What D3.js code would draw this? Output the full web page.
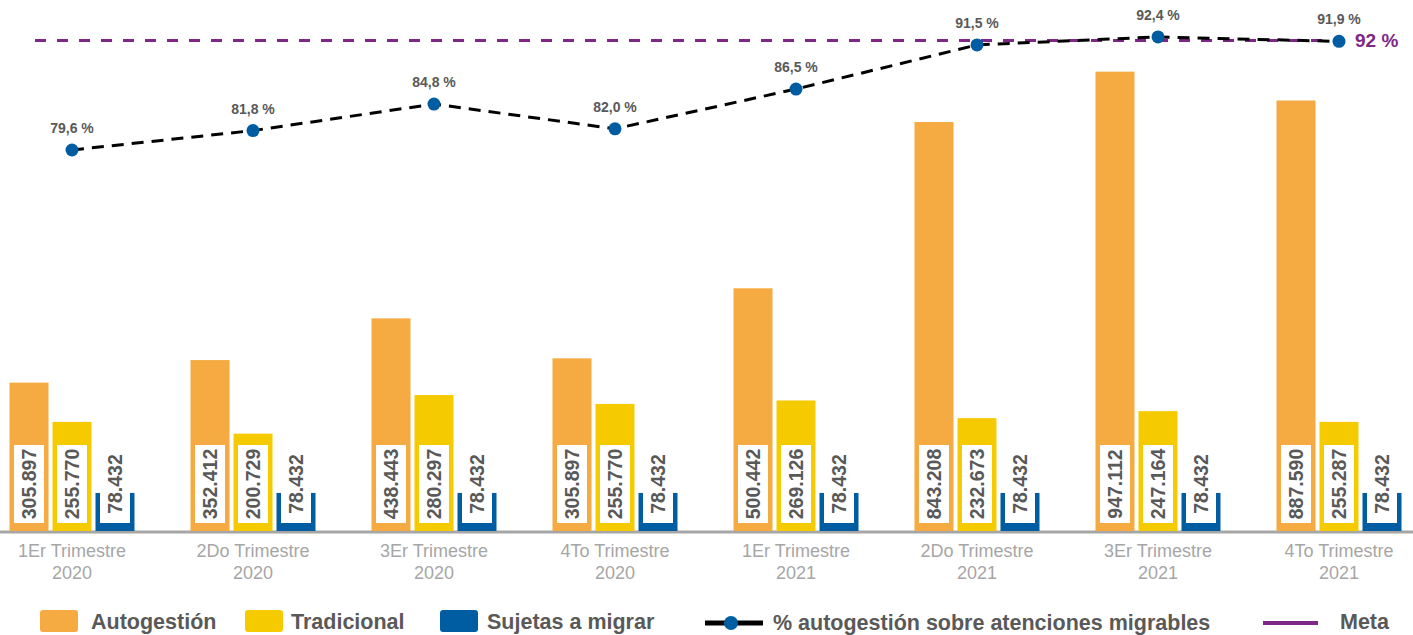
<!DOCTYPE html>
<html>
<head>
<meta charset="utf-8">
<script src="https://cdn.jsdelivr.net/npm/d3@7"></script>
<style>
  body { margin: 0; background: #fff; }
  svg { display: block; }
</style>
</head>
<body>
<div id="chart"></div>
<script>
// data
var categories = ["1Er Trimestre|2020", "2Do Trimestre|2020", "3Er Trimestre|2020", "4To Trimestre|2020",
                  "1Er Trimestre|2021", "2Do Trimestre|2021", "3Er Trimestre|2021", "4To Trimestre|2021"];
var autogestion  = [305897, 352412, 438443, 356000, 500442, 843208, 947112, 887590];
var tradicional  = [225000, 200729, 280297, 262000, 269126, 232673, 247164, 225000];
var sujetas      = [78432, 78432, 78432, 78432, 78432, 78432, 78432, 78432];
// labels as printed on the bars
var autogestionLabels = ["305.897", "352.412", "438.443", "305.897", "500.442", "843.208", "947.112", "887.590"];
var tradicionalLabels = ["255.770", "200.729", "280.297", "255.770", "269.126", "232.673", "247.164", "255.287"];
var sujetasLabels     = ["78.432", "78.432", "78.432", "78.432", "78.432", "78.432", "78.432", "78.432"];
var porcentaje = [79.6, 81.8, 84.8, 82.0, 86.5, 91.5, 92.4, 91.9];
var meta = 92;

var W = 1413, H = 635;
var baseY = 531;
var orange = "#F5AA42", yellow = "#F5CB00", blue = "#005DA2", purple = "#7E2787";
var grayText = "#595959";

var svg = d3.select("#chart").append("svg").attr("width", W).attr("height", H);

var x0 = d3.scaleBand().domain(categories).range([-18.5, 1429.5]);
var keys = ["a", "t", "s"];
var x1 = d3.scaleBand().domain(keys).range([0, 129]);
var barW = x1.bandwidth() - 4;
var y = d3.scaleLinear().domain([0, 1000000]).range([baseY, baseY - 485]);
var y2 = d3.scaleLinear().domain([75, 95]).range([190.6, 14.0]);

var series = [
  {key: "a", vals: autogestion, labels: autogestionLabels, color: orange},
  {key: "t", vals: tradicional, labels: tradicionalLabels, color: yellow},
  {key: "s", vals: sujetas, labels: sujetasLabels, color: blue}
];

// baseline
svg.append("line")
  .attr("x1", 0).attr("x2", W)
  .attr("y1", baseY + 1).attr("y2", baseY + 1)
  .style("stroke", "#A6A6A6").style("stroke-width", 3);

var groupStart = function(c) { return x0(c) + x0.bandwidth() / 2 - 62.5; };

series.forEach(function(s) {
  var g = svg.append("g");
  categories.forEach(function(c, i) {
    var bx = groupStart(c) + x1(s.key);
    g.append("rect")
      .attr("x", bx).attr("y", y(s.vals[i]))
      .attr("width", barW).attr("height", y(0) - y(s.vals[i]))
      .style("fill", s.color);
    // white label box
    g.append("rect")
      .attr("x", bx + 4.5).attr("y", 445)
      .attr("width", 30).attr("height", 78)
      .style("fill", "#fff");
    g.append("text")
      .attr("transform", "translate(" + (bx + barW / 2 + 7) + "," + 484 + ") rotate(-90)")
      .attr("text-anchor", "middle")
      .style("font-family", "'Liberation Sans', Arial, sans-serif")
      .style("font-weight", "bold")
      .style("font-size", "19.5px")
      .style("fill", grayText)
      .text(s.labels[i]);
  });
});

// category labels
categories.forEach(function(c) {
  var cx = x0(c) + x0.bandwidth() / 2;
  var parts = c.split("|");
  var t = svg.append("text")
    .attr("text-anchor", "middle")
    .style("font-family", "'Liberation Sans', Arial, sans-serif")
    .style("font-size", "18px")
    .style("fill", "#A6A6A6");
  t.append("tspan").attr("x", cx).attr("y", 557).text(parts[0]);
  t.append("tspan").attr("x", cx).attr("y", 579).text(parts[1]);
});

// meta line
var cx = function(i) { return x0(categories[i]) + x0.bandwidth() / 2; };
svg.append("line")
  .attr("x1", 35).attr("x2", cx(7) + 10)
  .attr("y1", y2(meta)).attr("y2", y2(meta))
  .style("stroke", purple).style("stroke-width", 3)
  .style("stroke-dasharray", "11,11");
svg.append("text")
  .attr("x", 1355).attr("y", y2(meta) + 7)
  .style("font-family", "'Liberation Sans', Arial, sans-serif")
  .style("font-weight", "bold").style("font-size", "19px")
  .style("fill", purple)
  .text("92 %");

// percentage line
var line = d3.line().x(function(d, i) { return cx(i); }).y(function(d) { return y2(d); });
svg.append("path")
  .datum(porcentaje)
  .attr("d", line)
  .style("fill", "none").style("stroke", "#000").style("stroke-width", 3)
  .style("stroke-dasharray", "12,8");
svg.selectAll(".pt").data(porcentaje).enter().append("circle")
  .attr("cx", function(d, i) { return cx(i); })
  .attr("cy", function(d) { return y2(d); })
  .attr("r", 6.5).style("fill", blue);
svg.selectAll(".pl").data(porcentaje).enter().append("text")
  .attr("x", function(d, i) { return cx(i); })
  .attr("y", function(d) { return y2(d) - 17; })
  .attr("text-anchor", "middle")
  .style("font-family", "'Liberation Sans', Arial, sans-serif")
  .style("font-weight", "bold").style("font-size", "14px")
  .style("fill", grayText)
  .text(function(d) { return d.toFixed(1).replace(".", ",") + " %"; });

// legend
var legY = 621;
var legFont = function(t) {
  return t.style("font-family", "'Liberation Sans', Arial, sans-serif")
    .style("font-weight", "bold").style("font-size", "21.5px").style("fill", grayText);
};
var boxes = [
  {x: 40, color: orange, label: "Autogestión", tx: 91},
  {x: 245, color: yellow, label: "Tradicional", tx: 291},
  {x: 440, color: blue, label: "Sujetas a migrar", tx: 487}
];
boxes.forEach(function(b) {
  svg.append("rect").attr("x", b.x).attr("y", legY - 11).attr("width", 38).attr("height", 22)
    .attr("rx", 3).style("fill", b.color);
  legFont(svg.append("text").attr("x", b.tx).attr("y", legY + 8)).text(b.label);
});
svg.append("line").attr("x1", 705).attr("x2", 763).attr("y1", legY + 2).attr("y2", legY + 2)
  .style("stroke", "#000").style("stroke-width", 5);
svg.append("circle").attr("cx", 731).attr("cy", legY + 2).attr("r", 7).style("fill", blue);
legFont(svg.append("text").attr("x", 773).attr("y", legY + 9)).text("% autogestión sobre atenciones migrables");
svg.append("line").attr("x1", 1263).attr("x2", 1318).attr("y1", legY + 2).attr("y2", legY + 2)
  .style("stroke", purple).style("stroke-width", 4);
legFont(svg.append("text").attr("x", 1340).attr("y", legY + 8)).text("Meta");
</script>
</body>
</html>
